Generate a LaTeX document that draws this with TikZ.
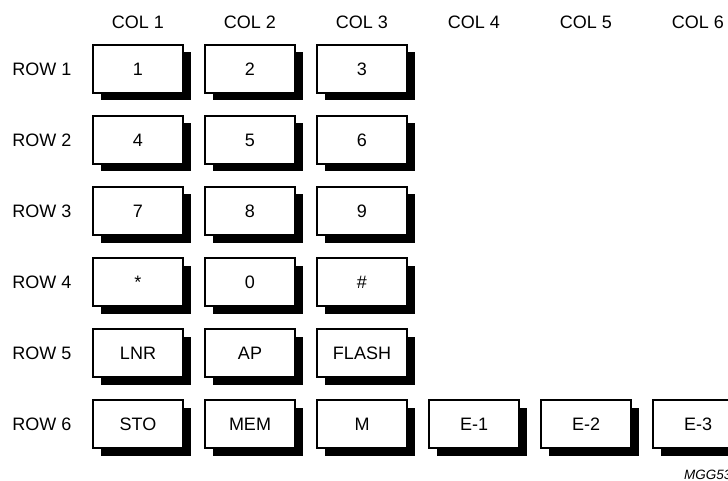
\documentclass[tikz,border=0pt]{standalone}
\usepackage{fontspec}
\setmainfont{Liberation Sans}
\usetikzlibrary{shadows}
\tikzset{
  keybox/.style={draw=black, line width=1.1pt, fill=white, minimum width=90pt, minimum height=48pt,
    inner sep=0pt, font=\fontsize{18}{20}\selectfont,
    general shadow={fill=black, shadow xshift=7.5pt, shadow yshift=-7.5pt}},
  headlbl/.style={font=\fontsize{18}{20}\selectfont, inner sep=0pt},
  tagnote/.style={font=\fontsize{13.5}{15}\selectfont\itshape, anchor=base west, inner sep=0pt},
}
\begin{document}
\begin{tikzpicture}[x=1pt, y=-1pt]
  \clip (0,0) rectangle (728,481);
  \fill[white] (0,0) rectangle (728,481);

  % column and row headings
  \foreach \c in {1,...,6}
    \node[headlbl] (col\c) at ({138+112*(\c-1)},22) {COL \c};
  \foreach \r in {1,...,6}
    \node[headlbl] (row\r) at (42,{69+71*(\r-1)}) {ROW \r};

  % keys
  \foreach \r/\c/\t in {1/1/1, 1/2/2, 1/3/3,
                        2/1/4, 2/2/5, 2/3/6,
                        3/1/7, 3/2/8, 3/3/9,
                        4/1/*, 4/2/0, 4/3/\#,
                        5/1/LNR, 5/2/AP, 5/3/FLASH,
                        6/1/STO, 6/2/MEM, 6/3/M, 6/4/E-1, 6/5/E-2, 6/6/E-3}
    \node[keybox] (k\r\c) at ({138+112*(\c-1)},{69+71*(\r-1)}) {\t};

  \node[tagnote] (tag) at (684,479) {MGG53};
\end{tikzpicture}
\end{document}
